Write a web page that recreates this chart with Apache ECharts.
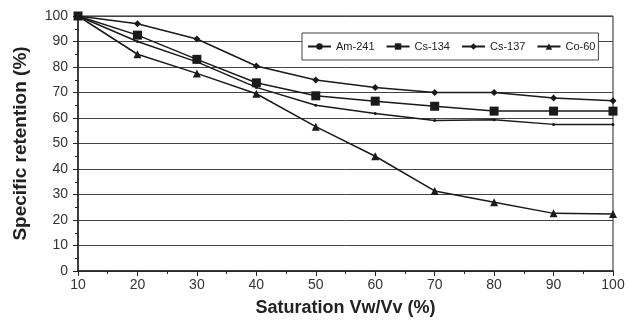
<!DOCTYPE html>
<html>
<head>
<meta charset="utf-8">
<script src="https://cdn.jsdelivr.net/npm/echarts@6/dist/echarts.min.js"></script>
<style>html,body{margin:0;padding:0;background:#fff}#c{width:630px;height:329px}</style>
</head>
<body>
<div id="c"></div>
<script>
var saturation = [10, 20, 30, 40, 50, 60, 70, 80, 90, 100];
var am241 = [100, 90, 82, 72, 65, 61.8, 59, 59.3, 57.5, 57.5];
var cs134 = [100, 92.5, 83, 73.8, 68.7, 66.6, 64.6, 62.7, 62.7, 62.7];
var cs137 = [100, 97, 91, 80.4, 74.9, 72, 70, 70, 67.8, 66.8];
var co60 = [100, 85, 77.5, 69.5, 56.6, 45, 31.4, 27, 22.6, 22.4];

function pairs(v) { return saturation.map(function (x, i) { return [x, v[i]]; }); }

var font = 'Liberation Sans, Arial, sans-serif';
var chart = echarts.init(document.getElementById('c'), null, { renderer: 'canvas' });

function ser(name, data, symbol, size) {
  return {
    name: name, type: 'line', data: pairs(data),
    symbol: symbol, symbolSize: size, showSymbol: true,
    lineStyle: { color: '#1a1a1a', width: 1.5 },
    itemStyle: { color: '#1a1a1a' },
    animation: false
  };
}

chart.setOption({
  animation: false,
  grid: { left: 78, right: 17, top: 16, bottom: 58, show: true, borderColor: '#222', borderWidth: 1 },
  legend: {
    left: 302, top: 33,
    padding: [8, 3, 8, 5],
    itemGap: 11, itemWidth: 23, itemHeight: 8,
    borderColor: '#444', borderWidth: 1,
    backgroundColor: '#fff',
    textStyle: { fontFamily: font, fontSize: 11, color: '#222' },
    data: ['Am-241', 'Cs-134', 'Cs-137', 'Co-60']
  },
  xAxis: {
    type: 'value', min: 10, max: 100, interval: 10,
    name: 'Saturation Vw/Vv (%)', nameLocation: 'middle', nameGap: 28,
    nameTextStyle: { fontFamily: font, fontSize: 18, fontWeight: 'bold', color: '#222' },
    axisLine: { lineStyle: { color: '#222', width: 1.5 } },
    axisTick: { show: true, length: 5, lineStyle: { color: '#222' } },
    minorTick: { show: true, splitNumber: 2, length: 3, lineStyle: { color: '#222' } },
    axisLabel: { fontFamily: font, fontSize: 14, color: '#333', margin: 7 },
    splitLine: { show: false }
  },
  yAxis: {
    type: 'value', min: 0, max: 100, interval: 10,
    name: 'Specific retention (%)', nameLocation: 'middle', nameGap: 48,
    nameTextStyle: { fontFamily: font, fontSize: 19, fontWeight: 'bold', color: '#222' },
    axisLine: { show: true, lineStyle: { color: '#222', width: 1.5 } },
    axisTick: { show: true, length: 5, lineStyle: { color: '#222' } },
    minorTick: { show: true, splitNumber: 2, length: 3, lineStyle: { color: '#222' } },
    axisLabel: { fontFamily: font, fontSize: 14, color: '#333', margin: 10 },
    splitLine: { show: true, lineStyle: { color: '#444', width: 1 } }
  },
  series: [
    ser('Am-241', am241, 'circle', 3),
    ser('Cs-134', cs134, 'rect', 9),
    ser('Cs-137', cs137, 'diamond', 7),
    ser('Co-60', co60, 'triangle', 8)
  ]
});
</script>
</body>
</html>
